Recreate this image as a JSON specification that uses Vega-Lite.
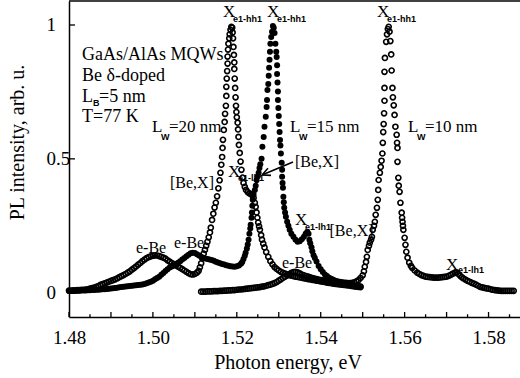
{
"$schema": "https://vega.github.io/schema/vega-lite/v6.json",
"width": 451, "height": 316,
"autosize": {"type": "none"},
"padding": {"left": 69, "top": 1, "right": 0, "bottom": 61},
"background": "white",
"config": {"view": {"stroke": null}, "font": "Liberation Serif"},
"resolve": {"axis": {"x": "independent", "y": "independent"}},
"datasets": {
"A": [{"x":1.4800,"y":0.008},{"x":1.4805,"y":0.008},{"x":1.4810,"y":0.009},{"x":1.4815,"y":0.009},{"x":1.4820,"y":0.010},{"x":1.4825,"y":0.010},{"x":1.4830,"y":0.011},{"x":1.4835,"y":0.011},{"x":1.4840,"y":0.012},{"x":1.4845,"y":0.013},{"x":1.4850,"y":0.015},{"x":1.4855,"y":0.017},{"x":1.4860,"y":0.019},{"x":1.4865,"y":0.022},{"x":1.4870,"y":0.025},{"x":1.4875,"y":0.029},{"x":1.4880,"y":0.032},{"x":1.4885,"y":0.035},{"x":1.4890,"y":0.038},{"x":1.4895,"y":0.041},{"x":1.4900,"y":0.044},{"x":1.4905,"y":0.047},{"x":1.4910,"y":0.050},{"x":1.4915,"y":0.054},{"x":1.4920,"y":0.058},{"x":1.4925,"y":0.062},{"x":1.4930,"y":0.066},{"x":1.4935,"y":0.070},{"x":1.4940,"y":0.075},{"x":1.4945,"y":0.080},{"x":1.4950,"y":0.086},{"x":1.4955,"y":0.092},{"x":1.4960,"y":0.098},{"x":1.4965,"y":0.105},{"x":1.4970,"y":0.111},{"x":1.4975,"y":0.118},{"x":1.4980,"y":0.124},{"x":1.4985,"y":0.129},{"x":1.4990,"y":0.133},{"x":1.4995,"y":0.136},{"x":1.5000,"y":0.138},{"x":1.5005,"y":0.139},{"x":1.5010,"y":0.139},{"x":1.5015,"y":0.137},{"x":1.5020,"y":0.134},{"x":1.5025,"y":0.131},{"x":1.5030,"y":0.127},{"x":1.5035,"y":0.121},{"x":1.5040,"y":0.116},{"x":1.5045,"y":0.111},{"x":1.5050,"y":0.107},{"x":1.5055,"y":0.102},{"x":1.5060,"y":0.097},{"x":1.5065,"y":0.093},{"x":1.5070,"y":0.088},{"x":1.5075,"y":0.083},{"x":1.5080,"y":0.078},{"x":1.5085,"y":0.073},{"x":1.5090,"y":0.069},{"x":1.5095,"y":0.068},{"x":1.5100,"y":0.070},{"x":1.5105,"y":0.075},{"x":1.5109,"y":0.082},{"x":1.5112,"y":0.095},{"x":1.5115,"y":0.110},{"x":1.5118,"y":0.128},{"x":1.5121,"y":0.146},{"x":1.5124,"y":0.160},{"x":1.5127,"y":0.175},{"x":1.5130,"y":0.190},{"x":1.5133,"y":0.207},{"x":1.5136,"y":0.225},{"x":1.5138,"y":0.243},{"x":1.5141,"y":0.272},{"x":1.5144,"y":0.295},{"x":1.5147,"y":0.318},{"x":1.5150,"y":0.336},{"x":1.5153,"y":0.360},{"x":1.5156,"y":0.390},{"x":1.5159,"y":0.420},{"x":1.5161,"y":0.448},{"x":1.5163,"y":0.478},{"x":1.5165,"y":0.507},{"x":1.5166,"y":0.541},{"x":1.5167,"y":0.571},{"x":1.5169,"y":0.608},{"x":1.5171,"y":0.638},{"x":1.5172,"y":0.668},{"x":1.5174,"y":0.698},{"x":1.5175,"y":0.735},{"x":1.5175,"y":0.769},{"x":1.5176,"y":0.800},{"x":1.5177,"y":0.828},{"x":1.5178,"y":0.856},{"x":1.5178,"y":0.882},{"x":1.5179,"y":0.908},{"x":1.5180,"y":0.930},{"x":1.5182,"y":0.950},{"x":1.5183,"y":0.965},{"x":1.5185,"y":0.982},{"x":1.5187,"y":0.993},{"x":1.5189,"y":0.990},{"x":1.5190,"y":0.972},{"x":1.5191,"y":0.950},{"x":1.5192,"y":0.918},{"x":1.5193,"y":0.888},{"x":1.5194,"y":0.860},{"x":1.5194,"y":0.836},{"x":1.5195,"y":0.800},{"x":1.5196,"y":0.765},{"x":1.5197,"y":0.730},{"x":1.5198,"y":0.698},{"x":1.5199,"y":0.675},{"x":1.5200,"y":0.655},{"x":1.5202,"y":0.635},{"x":1.5203,"y":0.610},{"x":1.5204,"y":0.582},{"x":1.5205,"y":0.552},{"x":1.5207,"y":0.522},{"x":1.5209,"y":0.490},{"x":1.5211,"y":0.459},{"x":1.5214,"y":0.430},{"x":1.5216,"y":0.410},{"x":1.5219,"y":0.395},{"x":1.5222,"y":0.384},{"x":1.5226,"y":0.376},{"x":1.5230,"y":0.371},{"x":1.5234,"y":0.368},{"x":1.5237,"y":0.364},{"x":1.5240,"y":0.354},{"x":1.5243,"y":0.336},{"x":1.5245,"y":0.321},{"x":1.5247,"y":0.300},{"x":1.5249,"y":0.280},{"x":1.5251,"y":0.262},{"x":1.5253,"y":0.248},{"x":1.5255,"y":0.235},{"x":1.5258,"y":0.215},{"x":1.5260,"y":0.198},{"x":1.5263,"y":0.183},{"x":1.5266,"y":0.169},{"x":1.5270,"y":0.152},{"x":1.5275,"y":0.134},{"x":1.5280,"y":0.118},{"x":1.5285,"y":0.106},{"x":1.5290,"y":0.096},{"x":1.5295,"y":0.089},{"x":1.5300,"y":0.083},{"x":1.5305,"y":0.078},{"x":1.5310,"y":0.074},{"x":1.5315,"y":0.071},{"x":1.5320,"y":0.068},{"x":1.5325,"y":0.066},{"x":1.5330,"y":0.064},{"x":1.5335,"y":0.062},{"x":1.5340,"y":0.060},{"x":1.5345,"y":0.059},{"x":1.5350,"y":0.057},{"x":1.5355,"y":0.056},{"x":1.5360,"y":0.054},{"x":1.5365,"y":0.053},{"x":1.5370,"y":0.051},{"x":1.5375,"y":0.050},{"x":1.5380,"y":0.048},{"x":1.5385,"y":0.047},{"x":1.5390,"y":0.045},{"x":1.5395,"y":0.044},{"x":1.5400,"y":0.042},{"x":1.5405,"y":0.041},{"x":1.5410,"y":0.040},{"x":1.5415,"y":0.038},{"x":1.5420,"y":0.037},{"x":1.5425,"y":0.036},{"x":1.5430,"y":0.034},{"x":1.5435,"y":0.033},{"x":1.5440,"y":0.032},{"x":1.5445,"y":0.031},{"x":1.5450,"y":0.030},{"x":1.5455,"y":0.029},{"x":1.5460,"y":0.028},{"x":1.5465,"y":0.027},{"x":1.5470,"y":0.026},{"x":1.5475,"y":0.025},{"x":1.5480,"y":0.024},{"x":1.5485,"y":0.023},{"x":1.5490,"y":0.022},{"x":1.5495,"y":0.021}],
"B": [{"x":1.4800,"y":0.006},{"x":1.4805,"y":0.006},{"x":1.4810,"y":0.006},{"x":1.4815,"y":0.007},{"x":1.4820,"y":0.007},{"x":1.4825,"y":0.007},{"x":1.4830,"y":0.008},{"x":1.4835,"y":0.008},{"x":1.4840,"y":0.008},{"x":1.4845,"y":0.009},{"x":1.4850,"y":0.009},{"x":1.4855,"y":0.010},{"x":1.4860,"y":0.010},{"x":1.4865,"y":0.011},{"x":1.4870,"y":0.011},{"x":1.4875,"y":0.012},{"x":1.4880,"y":0.013},{"x":1.4885,"y":0.013},{"x":1.4890,"y":0.014},{"x":1.4895,"y":0.015},{"x":1.4900,"y":0.016},{"x":1.4905,"y":0.017},{"x":1.4910,"y":0.018},{"x":1.4915,"y":0.019},{"x":1.4920,"y":0.020},{"x":1.4925,"y":0.021},{"x":1.4930,"y":0.022},{"x":1.4935,"y":0.023},{"x":1.4940,"y":0.024},{"x":1.4945,"y":0.025},{"x":1.4950,"y":0.026},{"x":1.4955,"y":0.027},{"x":1.4960,"y":0.028},{"x":1.4965,"y":0.029},{"x":1.4970,"y":0.030},{"x":1.4975,"y":0.031},{"x":1.4980,"y":0.033},{"x":1.4985,"y":0.035},{"x":1.4990,"y":0.038},{"x":1.4995,"y":0.041},{"x":1.5000,"y":0.045},{"x":1.5005,"y":0.050},{"x":1.5010,"y":0.055},{"x":1.5015,"y":0.060},{"x":1.5020,"y":0.067},{"x":1.5025,"y":0.074},{"x":1.5030,"y":0.081},{"x":1.5035,"y":0.088},{"x":1.5040,"y":0.094},{"x":1.5045,"y":0.098},{"x":1.5050,"y":0.102},{"x":1.5055,"y":0.106},{"x":1.5060,"y":0.112},{"x":1.5065,"y":0.118},{"x":1.5070,"y":0.124},{"x":1.5075,"y":0.130},{"x":1.5080,"y":0.136},{"x":1.5085,"y":0.142},{"x":1.5090,"y":0.147},{"x":1.5095,"y":0.149},{"x":1.5100,"y":0.148},{"x":1.5105,"y":0.144},{"x":1.5110,"y":0.139},{"x":1.5115,"y":0.134},{"x":1.5120,"y":0.131},{"x":1.5125,"y":0.128},{"x":1.5130,"y":0.126},{"x":1.5135,"y":0.124},{"x":1.5140,"y":0.122},{"x":1.5145,"y":0.119},{"x":1.5150,"y":0.116},{"x":1.5155,"y":0.113},{"x":1.5160,"y":0.110},{"x":1.5165,"y":0.107},{"x":1.5170,"y":0.105},{"x":1.5175,"y":0.103},{"x":1.5180,"y":0.101},{"x":1.5185,"y":0.099},{"x":1.5190,"y":0.098},{"x":1.5195,"y":0.097},{"x":1.5200,"y":0.099},{"x":1.5205,"y":0.102},{"x":1.5210,"y":0.108},{"x":1.5213,"y":0.115},{"x":1.5216,"y":0.126},{"x":1.5219,"y":0.138},{"x":1.5221,"y":0.149},{"x":1.5224,"y":0.165},{"x":1.5226,"y":0.180},{"x":1.5228,"y":0.198},{"x":1.5230,"y":0.220},{"x":1.5232,"y":0.240},{"x":1.5233,"y":0.254},{"x":1.5235,"y":0.280},{"x":1.5236,"y":0.300},{"x":1.5237,"y":0.325},{"x":1.5238,"y":0.347},{"x":1.5240,"y":0.367},{"x":1.5243,"y":0.384},{"x":1.5245,"y":0.400},{"x":1.5247,"y":0.420},{"x":1.5250,"y":0.435},{"x":1.5252,"y":0.448},{"x":1.5254,"y":0.466},{"x":1.5256,"y":0.480},{"x":1.5259,"y":0.500},{"x":1.5261,"y":0.545},{"x":1.5264,"y":0.582},{"x":1.5266,"y":0.620},{"x":1.5269,"y":0.657},{"x":1.5271,"y":0.694},{"x":1.5272,"y":0.720},{"x":1.5273,"y":0.757},{"x":1.5275,"y":0.780},{"x":1.5276,"y":0.810},{"x":1.5277,"y":0.840},{"x":1.5278,"y":0.870},{"x":1.5279,"y":0.900},{"x":1.5280,"y":0.930},{"x":1.5282,"y":0.955},{"x":1.5284,"y":0.975},{"x":1.5286,"y":0.996},{"x":1.5288,"y":0.990},{"x":1.5290,"y":0.970},{"x":1.5292,"y":0.930},{"x":1.5294,"y":0.900},{"x":1.5295,"y":0.880},{"x":1.5296,"y":0.850},{"x":1.5296,"y":0.817},{"x":1.5297,"y":0.785},{"x":1.5298,"y":0.752},{"x":1.5298,"y":0.720},{"x":1.5299,"y":0.690},{"x":1.5300,"y":0.660},{"x":1.5301,"y":0.630},{"x":1.5302,"y":0.600},{"x":1.5303,"y":0.570},{"x":1.5304,"y":0.550},{"x":1.5305,"y":0.520},{"x":1.5307,"y":0.485},{"x":1.5308,"y":0.459},{"x":1.5308,"y":0.433},{"x":1.5309,"y":0.410},{"x":1.5310,"y":0.392},{"x":1.5311,"y":0.358},{"x":1.5312,"y":0.338},{"x":1.5313,"y":0.317},{"x":1.5315,"y":0.300},{"x":1.5317,"y":0.284},{"x":1.5320,"y":0.265},{"x":1.5323,"y":0.250},{"x":1.5326,"y":0.235},{"x":1.5330,"y":0.220},{"x":1.5335,"y":0.209},{"x":1.5340,"y":0.198},{"x":1.5345,"y":0.190},{"x":1.5350,"y":0.192},{"x":1.5355,"y":0.200},{"x":1.5360,"y":0.209},{"x":1.5364,"y":0.220},{"x":1.5368,"y":0.228},{"x":1.5371,"y":0.220},{"x":1.5373,"y":0.198},{"x":1.5375,"y":0.185},{"x":1.5378,"y":0.170},{"x":1.5380,"y":0.155},{"x":1.5383,"y":0.140},{"x":1.5386,"y":0.130},{"x":1.5390,"y":0.117},{"x":1.5395,"y":0.100},{"x":1.5400,"y":0.088},{"x":1.5405,"y":0.077},{"x":1.5410,"y":0.068},{"x":1.5415,"y":0.062},{"x":1.5420,"y":0.056},{"x":1.5425,"y":0.052},{"x":1.5430,"y":0.048},{"x":1.5435,"y":0.045},{"x":1.5440,"y":0.043},{"x":1.5445,"y":0.041},{"x":1.5450,"y":0.039},{"x":1.5455,"y":0.037},{"x":1.5460,"y":0.035},{"x":1.5465,"y":0.033},{"x":1.5470,"y":0.031},{"x":1.5475,"y":0.030},{"x":1.5480,"y":0.028},{"x":1.5485,"y":0.027},{"x":1.5490,"y":0.025},{"x":1.5495,"y":0.024}],
"C": [{"x":1.5115,"y":0.004},{"x":1.5120,"y":0.004},{"x":1.5125,"y":0.004},{"x":1.5130,"y":0.005},{"x":1.5135,"y":0.005},{"x":1.5140,"y":0.005},{"x":1.5145,"y":0.006},{"x":1.5150,"y":0.006},{"x":1.5155,"y":0.006},{"x":1.5160,"y":0.007},{"x":1.5165,"y":0.007},{"x":1.5170,"y":0.008},{"x":1.5175,"y":0.008},{"x":1.5180,"y":0.009},{"x":1.5185,"y":0.009},{"x":1.5190,"y":0.010},{"x":1.5195,"y":0.010},{"x":1.5200,"y":0.011},{"x":1.5205,"y":0.012},{"x":1.5210,"y":0.012},{"x":1.5215,"y":0.013},{"x":1.5220,"y":0.014},{"x":1.5225,"y":0.015},{"x":1.5230,"y":0.016},{"x":1.5235,"y":0.017},{"x":1.5240,"y":0.018},{"x":1.5245,"y":0.019},{"x":1.5250,"y":0.020},{"x":1.5255,"y":0.021},{"x":1.5260,"y":0.023},{"x":1.5265,"y":0.024},{"x":1.5270,"y":0.026},{"x":1.5275,"y":0.028},{"x":1.5280,"y":0.030},{"x":1.5285,"y":0.033},{"x":1.5290,"y":0.036},{"x":1.5295,"y":0.040},{"x":1.5300,"y":0.045},{"x":1.5305,"y":0.050},{"x":1.5310,"y":0.055},{"x":1.5315,"y":0.060},{"x":1.5320,"y":0.065},{"x":1.5325,"y":0.070},{"x":1.5330,"y":0.074},{"x":1.5335,"y":0.077},{"x":1.5340,"y":0.078},{"x":1.5345,"y":0.076},{"x":1.5350,"y":0.072},{"x":1.5355,"y":0.068},{"x":1.5360,"y":0.065},{"x":1.5365,"y":0.062},{"x":1.5370,"y":0.060},{"x":1.5375,"y":0.057},{"x":1.5380,"y":0.055},{"x":1.5385,"y":0.053},{"x":1.5390,"y":0.051},{"x":1.5395,"y":0.049},{"x":1.5400,"y":0.047},{"x":1.5405,"y":0.046},{"x":1.5410,"y":0.045},{"x":1.5415,"y":0.044},{"x":1.5420,"y":0.043},{"x":1.5425,"y":0.042},{"x":1.5430,"y":0.041},{"x":1.5435,"y":0.040},{"x":1.5440,"y":0.039},{"x":1.5445,"y":0.038},{"x":1.5450,"y":0.038},{"x":1.5455,"y":0.037},{"x":1.5460,"y":0.037},{"x":1.5465,"y":0.036},{"x":1.5470,"y":0.036},{"x":1.5475,"y":0.037},{"x":1.5480,"y":0.039},{"x":1.5485,"y":0.042},{"x":1.5490,"y":0.047},{"x":1.5495,"y":0.055},{"x":1.5500,"y":0.065},{"x":1.5503,"y":0.080},{"x":1.5505,"y":0.097},{"x":1.5508,"y":0.115},{"x":1.5510,"y":0.134},{"x":1.5512,"y":0.160},{"x":1.5515,"y":0.175},{"x":1.5517,"y":0.187},{"x":1.5520,"y":0.198},{"x":1.5522,"y":0.209},{"x":1.5524,"y":0.235},{"x":1.5527,"y":0.250},{"x":1.5529,"y":0.265},{"x":1.5531,"y":0.291},{"x":1.5534,"y":0.317},{"x":1.5536,"y":0.347},{"x":1.5537,"y":0.384},{"x":1.5538,"y":0.421},{"x":1.5541,"y":0.448},{"x":1.5543,"y":0.470},{"x":1.5545,"y":0.493},{"x":1.5547,"y":0.520},{"x":1.5548,"y":0.560},{"x":1.5549,"y":0.600},{"x":1.5550,"y":0.630},{"x":1.5551,"y":0.670},{"x":1.5552,"y":0.717},{"x":1.5552,"y":0.765},{"x":1.5552,"y":0.825},{"x":1.5553,"y":0.877},{"x":1.5556,"y":0.937},{"x":1.5558,"y":0.965},{"x":1.5560,"y":0.985},{"x":1.5562,"y":0.993},{"x":1.5564,"y":0.975},{"x":1.5566,"y":0.940},{"x":1.5568,"y":0.890},{"x":1.5569,"y":0.830},{"x":1.5571,"y":0.765},{"x":1.5572,"y":0.730},{"x":1.5574,"y":0.700},{"x":1.5576,"y":0.664},{"x":1.5578,"y":0.620},{"x":1.5581,"y":0.590},{"x":1.5582,"y":0.560},{"x":1.5583,"y":0.541},{"x":1.5583,"y":0.489},{"x":1.5585,"y":0.429},{"x":1.5586,"y":0.400},{"x":1.5588,"y":0.377},{"x":1.5590,"y":0.336},{"x":1.5593,"y":0.299},{"x":1.5594,"y":0.280},{"x":1.5595,"y":0.265},{"x":1.5596,"y":0.250},{"x":1.5597,"y":0.235},{"x":1.5600,"y":0.205},{"x":1.5602,"y":0.179},{"x":1.5604,"y":0.153},{"x":1.5607,"y":0.131},{"x":1.5611,"y":0.112},{"x":1.5615,"y":0.100},{"x":1.5618,"y":0.093},{"x":1.5624,"y":0.083},{"x":1.5630,"y":0.075},{"x":1.5635,"y":0.070},{"x":1.5640,"y":0.066},{"x":1.5645,"y":0.063},{"x":1.5650,"y":0.060},{"x":1.5655,"y":0.059},{"x":1.5660,"y":0.058},{"x":1.5665,"y":0.057},{"x":1.5670,"y":0.056},{"x":1.5675,"y":0.056},{"x":1.5680,"y":0.056},{"x":1.5685,"y":0.057},{"x":1.5690,"y":0.058},{"x":1.5695,"y":0.059},{"x":1.5700,"y":0.060},{"x":1.5705,"y":0.063},{"x":1.5710,"y":0.067},{"x":1.5715,"y":0.071},{"x":1.5720,"y":0.074},{"x":1.5724,"y":0.075},{"x":1.5728,"y":0.070},{"x":1.5732,"y":0.064},{"x":1.5736,"y":0.058},{"x":1.5740,"y":0.054},{"x":1.5745,"y":0.049},{"x":1.5750,"y":0.044},{"x":1.5755,"y":0.041},{"x":1.5760,"y":0.037},{"x":1.5765,"y":0.034},{"x":1.5770,"y":0.030},{"x":1.5775,"y":0.026},{"x":1.5780,"y":0.022},{"x":1.5785,"y":0.020},{"x":1.5790,"y":0.018},{"x":1.5795,"y":0.016},{"x":1.5800,"y":0.015},{"x":1.5805,"y":0.013},{"x":1.5810,"y":0.011},{"x":1.5815,"y":0.010},{"x":1.5820,"y":0.009},{"x":1.5825,"y":0.008},{"x":1.5830,"y":0.007},{"x":1.5835,"y":0.007},{"x":1.5840,"y":0.007},{"x":1.5845,"y":0.007},{"x":1.5850,"y":0.007},{"x":1.5855,"y":0.007},{"x":1.5860,"y":0.007}],
"t18": [{"t":"GaAs/AlAs MQWs","x":1.4831,"y":0.8692},{"t":"Be δ-doped","x":1.4831,"y":0.7908},{"t":"L","x":1.4831,"y":0.7124},{"t":"=5 nm","x":1.48715,"y":0.7124},{"t":"T=77 K","x":1.4831,"y":0.6377}],
"t17": [{"t":"L","x":1.49978,"y":0.6003},{"t":"=20 nm","x":1.50384,"y":0.6003},{"t":"L","x":1.53268,"y":0.6003},{"t":"=15 nm","x":1.53673,"y":0.6003},{"t":"L","x":1.5608,"y":0.6003},{"t":"=10 nm","x":1.56486,"y":0.6003},{"t":"X","x":1.51671,"y":1.0298},{"t":"X","x":1.5272,"y":1.0298},{"t":"X","x":1.55342,"y":1.0298},{"t":"X","x":1.5179,"y":0.4322},{"t":"X","x":1.53387,"y":0.2529},{"t":"X","x":1.56986,"y":0.0848}],
"t16": [{"t":"[Be,X]","x":1.50407,"y":0.3911},{"t":"[Be,X]","x":1.53387,"y":0.4696},{"t":"[Be,X]","x":1.5421,"y":0.2118},{"t":"e-Be","x":1.49597,"y":0.1483},{"t":"e-Be","x":1.50503,"y":0.167},{"t":"e-Be","x":1.53077,"y":0.0923}],
"sub": [{"t":"B","x":1.48572,"y":0.6992},{"t":"W","x":1.50193,"y":0.5704},{"t":"W","x":1.53482,"y":0.5704},{"t":"W","x":1.56295,"y":0.5704},{"t":"e1-hh1","x":1.51909,"y":1.0112},{"t":"e1-hh1","x":1.52958,"y":1.0112},{"t":"e1-hh1","x":1.5558,"y":1.0112},{"t":"e1-lh1","x":1.52028,"y":0.4173},{"t":"e1-lh1","x":1.53625,"y":0.2343},{"t":"e1-lh1","x":1.57272,"y":0.0736}],
"arrow": [{"x":1.526,"y":0.4397,"x2":1.53339,"y2":0.4883},{"x":1.526,"y":0.4397,"x2":1.52815,"y2":0.4382},{"x":1.526,"y":0.4397,"x2":1.52743,"y2":0.4647}],
"frame": [{"top":1.0896}],
"xmajor": [{"v":1.48},{"v":1.49},{"v":1.50},{"v":1.51},{"v":1.52},{"v":1.53},{"v":1.54},{"v":1.55},{"v":1.56},{"v":1.57},{"v":1.58}],
"xminor": [{"v":1.485},{"v":1.495},{"v":1.505},{"v":1.515},{"v":1.525},{"v":1.535},{"v":1.545},{"v":1.555},{"v":1.565},{"v":1.575},{"v":1.585}],
"yticks": [{"v":0},{"v":0.5},{"v":1}]
},
"layer": [
{"data":{"name":"t18"},"mark":{"type":"text","font":"Liberation Serif, Times New Roman, serif","fontSize":18,"align":"left","baseline":"alphabetic","color":"black"},
 "encoding":{"x":{"field":"x","type":"quantitative","scale":{"domain":[1.48,1.5875],"nice":false,"zero":false},"axis":null},"y":{"field":"y","type":"quantitative","scale":{"domain":[-0.0907,1.0896],"nice":false,"zero":false},"axis":null},"text":{"field":"t"}}},
{"data":{"name":"t17"},"mark":{"type":"text","font":"Liberation Serif, Times New Roman, serif","fontSize":17,"align":"left","baseline":"alphabetic","color":"black"},
 "encoding":{"x":{"field":"x","type":"quantitative","scale":{"domain":[1.48,1.5875],"nice":false,"zero":false},"axis":null},"y":{"field":"y","type":"quantitative","scale":{"domain":[-0.0907,1.0896],"nice":false,"zero":false},"axis":null},"text":{"field":"t"}}},
{"data":{"name":"t16"},"mark":{"type":"text","font":"Liberation Serif, Times New Roman, serif","fontSize":16,"align":"left","baseline":"alphabetic","color":"black"},
 "encoding":{"x":{"field":"x","type":"quantitative","scale":{"domain":[1.48,1.5875],"nice":false,"zero":false},"axis":null},"y":{"field":"y","type":"quantitative","scale":{"domain":[-0.0907,1.0896],"nice":false,"zero":false},"axis":null},"text":{"field":"t"}}},
{"data":{"name":"sub"},"mark":{"type":"text","font":"Liberation Sans, Arial, sans-serif","fontWeight":"bold","fontSize":9,"align":"left","baseline":"alphabetic","color":"black"},
 "encoding":{"x":{"field":"x","type":"quantitative","scale":{"domain":[1.48,1.5875],"nice":false,"zero":false},"axis":null},"y":{"field":"y","type":"quantitative","scale":{"domain":[-0.0907,1.0896],"nice":false,"zero":false},"axis":null},"text":{"field":"t"}}},
{"data":{"name":"arrow"},"mark":{"type":"rule","color":"black","strokeWidth":1.6},
 "encoding":{"x":{"field":"x","type":"quantitative","scale":{"domain":[1.48,1.5875],"nice":false,"zero":false},"axis":null},"y":{"field":"y","type":"quantitative","scale":{"domain":[-0.0907,1.0896],"nice":false,"zero":false},"axis":null},"x2":{"field":"x2"},"y2":{"field":"y2"}}},
{"data":{"name":"frame"},"mark":{"type":"rule","color":"black","strokeWidth":1.6},
 "encoding":{"y":{"field":"top","type":"quantitative","scale":{"domain":[-0.0907,1.0896],"nice":false,"zero":false},"axis":null}}},
{"data":{"name":"xmajor"},"mark":{"type":"rule","color":"black","strokeWidth":1.3},
 "encoding":{"x":{"field":"v","type":"quantitative","scale":{"domain":[1.48,1.5875],"nice":false,"zero":false},"axis":null},"y":{"datum":-0.0907,"type":"quantitative","scale":{"domain":[-0.0907,1.0896],"nice":false,"zero":false},"axis":null},"y2":{"datum":-0.0720}}},
{"data":{"name":"xminor"},"mark":{"type":"rule","color":"black","strokeWidth":1.3},
 "encoding":{"x":{"field":"v","type":"quantitative","scale":{"domain":[1.48,1.5875],"nice":false,"zero":false},"axis":null},"y":{"datum":-0.0907,"type":"quantitative","scale":{"domain":[-0.0907,1.0896],"nice":false,"zero":false},"axis":null},"y2":{"datum":-0.0805}}},
{"data":{"name":"yticks"},"mark":{"type":"rule","color":"black","strokeWidth":1.3},
 "encoding":{"y":{"field":"v","type":"quantitative","scale":{"domain":[-0.0907,1.0896],"nice":false,"zero":false},"axis":null},"x":{"datum":1.48,"type":"quantitative","scale":{"domain":[1.48,1.5875],"nice":false,"zero":false},"axis":null},"x2":{"datum":1.48143}}},
{"data":{"name":"A"},"mark":{"type":"point","shape":"circle","filled":false,"size":26,"strokeWidth":1.6,"color":"black","opacity":1},
 "encoding":{
  "x":{"field":"x","type":"quantitative","scale":{"domain":[1.48,1.5875],"nice":false,"zero":false},
   "axis":{"values":[1.48,1.5,1.52,1.54,1.56,1.58],"format":".2f",
    "labelOverlap":false,"labelFlush":false,"labelFont":"Liberation Serif","labelFontSize":19,"labelColor":"black","labelBaseline":"alphabetic","labelPadding":26,
    "ticks":false,"domainColor":"black","domainWidth":1.5,"grid":false,
    "title":"Photon energy, eV","titleFont":"Liberation Serif","titleFontSize":20,"titleFontWeight":"normal","titleColor":"black","titleX":218.5,"titleY":51,"titleBaseline":"alphabetic","titleAnchor":"middle","titleAlign":"center"}},
  "y":{"field":"y","type":"quantitative","scale":{"domain":[-0.0907,1.0896],"nice":false,"zero":false},
   "axis":{"values":[0,0.5,1],"format":"~g","labelFont":"Liberation Serif","labelFontSize":19,"labelColor":"black","labelAlign":"left","labelBaseline":"middle","labelPadding":23,
    "ticks":false,"domainColor":"black","domainWidth":1.5,"grid":false,
    "title":"PL intensity, arb. u.","titleFont":"Liberation Serif","titleFontSize":20,"titleFontWeight":"normal","titleColor":"black","titleAngle":270,"titleX":-46,"titleY":141,"titleBaseline":"alphabetic","titleAlign":"center"}}}},
{"data":{"name":"C"},"mark":{"type":"point","shape":"circle","filled":false,"size":26,"strokeWidth":1.6,"color":"black","opacity":1},
 "encoding":{"x":{"field":"x","type":"quantitative","scale":{"domain":[1.48,1.5875],"nice":false,"zero":false},"axis":null},"y":{"field":"y","type":"quantitative","scale":{"domain":[-0.0907,1.0896],"nice":false,"zero":false},"axis":null}}},
{"data":{"name":"B"},"mark":{"type":"point","shape":"circle","filled":true,"size":36,"color":"black","opacity":1},
 "encoding":{"x":{"field":"x","type":"quantitative","scale":{"domain":[1.48,1.5875],"nice":false,"zero":false},"axis":null},"y":{"field":"y","type":"quantitative","scale":{"domain":[-0.0907,1.0896],"nice":false,"zero":false},"axis":null}}}
]
}
